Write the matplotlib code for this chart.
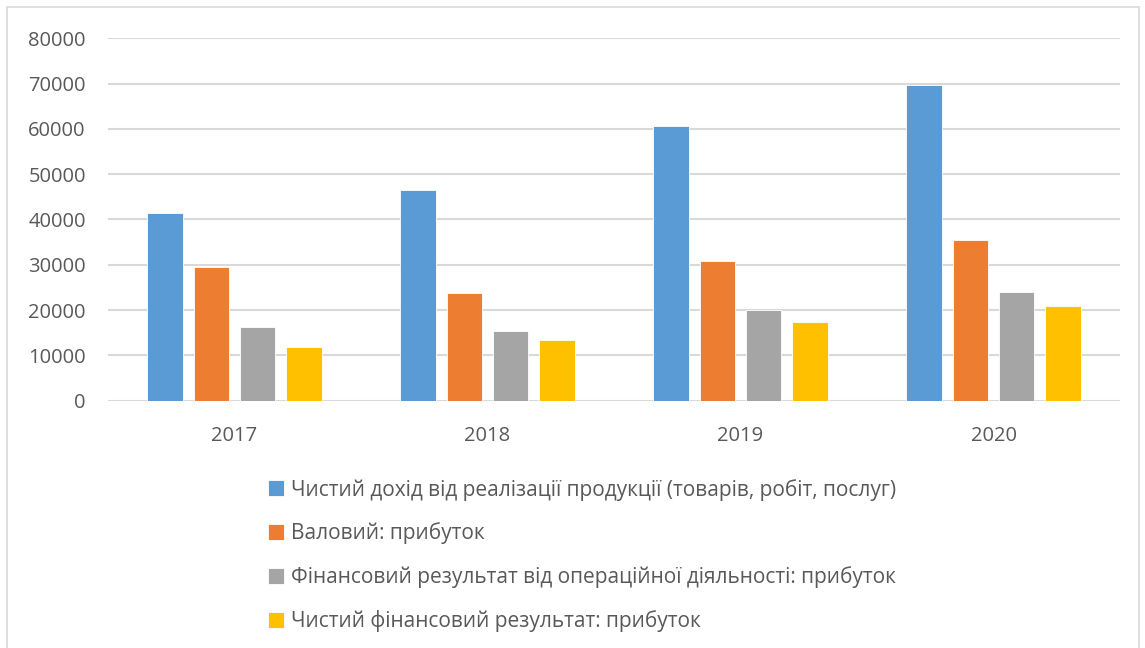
import numpy as np
import matplotlib.pyplot as plt
from matplotlib.patches import Rectangle

years = ['2017', '2018', '2019', '2020']
series_names = [
    'Чистий дохід від реалізації продукції (товарів, робіт, послуг)',
    'Валовий: прибуток',
    'Фінансовий результат від операційної діяльності: прибуток',
    'Чистий фінансовий результат: прибуток',
]
net_income = [41500, 46600, 60600, 69650]
gross_profit = [29450, 23800, 30900, 35500]
operating_result = [16200, 15300, 20000, 23950]
net_result = [11900, 13300, 17450, 21000]
colors = ['#5B9BD5', '#ED7D31', '#A5A5A5', '#FFC000']

plt.rcParams['font.family'] = ['Open Sans', 'DejaVu Sans']
text_color = '#595959'

fig = plt.figure(figsize=(11.45, 6.48), dpi=100)
ax = fig.add_axes([108/1145, 1 - 400.7/648, (1120 - 108)/1145, (400.7 - 38.3)/648])

x = np.arange(len(years))
step = 0.182; width = 0.142
all_series = [net_income, gross_profit, operating_result, net_result]
for j, (vals, c, name) in enumerate(zip(all_series, colors, series_names)):
    ax.bar(x + (j - 1.5) * step, vals, width, color=c, label=name,
           edgecolor='white', linewidth=0.6, zorder=3)

ax.set_xlim(-0.5, 3.5)
ax.set_ylim(0, 80000)
ax.set_yticks(np.arange(0, 80001, 10000))
ax.set_xticks(x); ax.set_xticklabels(years)
ax.grid(axis='y', color='#D9D9D9', linewidth=1.5, zorder=0)
for s in ax.spines.values():
    s.set_visible(False)
ax.tick_params(axis='both', length=0, labelsize=14.5, colors=text_color)
ax.tick_params(axis='y', pad=16)
ax.tick_params(axis='x', pad=18)

# legend below the plot
handles, labels = ax.get_legend_handles_labels()
leg = fig.legend(handles, labels, loc='upper left', bbox_to_anchor=(249/1145, 1 - 460/648),
                 frameon=False, fontsize=15, labelcolor=text_color, ncol=1,
                 handlelength=0.8, handleheight=0.8, handletextpad=0.3, labelspacing=1.05)

# outer chart frame
fig.patches.append(Rectangle((7/1145, -0.01), (1139 - 7)/1145, 1 - 7/648 + 0.01,
                             transform=fig.transFigure, fill=False,
                             edgecolor='#D9D9D9', linewidth=1.2))

fig.savefig('out.png', dpi=100)
